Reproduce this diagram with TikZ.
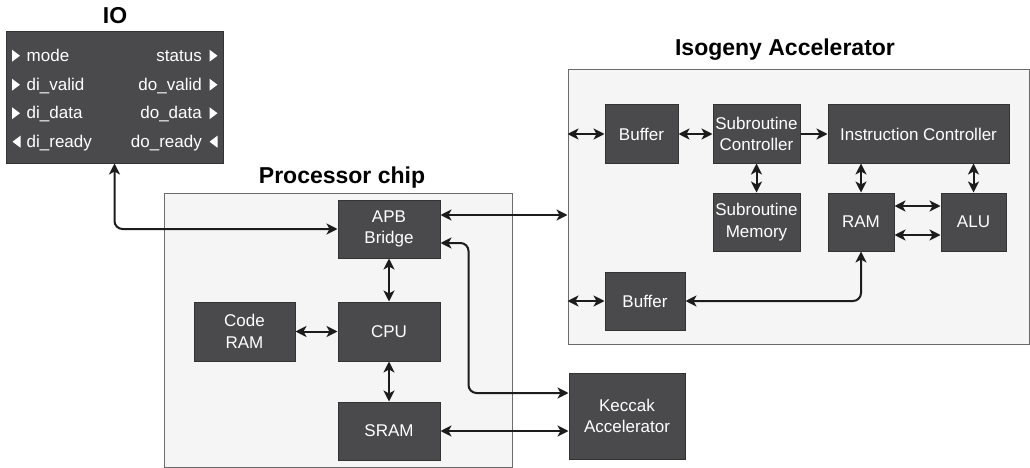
\documentclass[tikz,border=0pt]{standalone}
\usepackage{fontspec}
\setmainfont{Liberation Sans}
\usetikzlibrary{arrows.meta}
\definecolor{boxfill}{HTML}{4A4A4C}
\definecolor{boxline}{HTML}{333333}
\definecolor{contfill}{HTML}{F5F5F5}
\definecolor{contline}{HTML}{6B6B6B}
\definecolor{arrcol}{HTML}{1C1C1C}
\tikzset{
  cont/.style={draw=contline, fill=contfill, line width=1pt, inner sep=0pt},
  blk/.style={draw=boxline, fill=boxfill, line width=1pt, inner sep=0pt, text=white,
    align=center, font=\fontsize{17}{21.5}\selectfont},
  ttl/.style={font=\fontsize{23}{27}\selectfont\bfseries, text=black, inner sep=0pt, anchor=base},
  iotxt/.style={font=\fontsize{17}{21}\selectfont, text=white, inner sep=0pt},
  tip/.tip={Stealth[length=11pt,width=11pt,inset=3pt]},
  dbl/.style={draw=arrcol, line width=2pt, {tip}-{tip}},
  sgl/.style={draw=arrcol, line width=2pt, -{tip}},
}
\begin{document}
\begin{tikzpicture}[x=1pt,y=-1pt]
\useasboundingbox (0,0) rectangle (1030,468);
% containers
\node[blk, minimum width=217pt, minimum height=131pt] (io) at (114.5,97.5) {};
\node[cont, minimum width=348pt, minimum height=274pt] (proc) at (338,330) {};
\node[cont, minimum width=461pt, minimum height=274pt] (iso) at (798.5,207) {};
% titles
\node[ttl] (iot) at (115,24) {IO};
\node[ttl] (proct) at (342,183.5) {Processor chip};
\node[ttl] (isot) at (785,56) {Isogeny Accelerator};
% IO contents
\node[iotxt, anchor=base west] (l1) at (26.5,61.5) {mode};
\node[iotxt, anchor=base west] (l2) at (26.5,90.5) {di\_valid};
\node[iotxt, anchor=base west] (l3) at (26.5,119) {di\_data};
\node[iotxt, anchor=base west] (l4) at (26.5,147.5) {di\_ready};
\node[iotxt, anchor=base east] (r1) at (202,61.5) {status};
\node[iotxt, anchor=base east] (r2) at (202,90.5) {do\_valid};
\node[iotxt, anchor=base east] (r3) at (202,119) {do\_data};
\node[iotxt, anchor=base east] (r4) at (202,147.5) {do\_ready};
\foreach \b in {61.5,90.5,119}{
  \fill[white] (12,\b-11.8) -- (20,\b-5.8) -- (12,\b+0.2) -- cycle;
  \fill[white] (209.5,\b-11.8) -- (217.5,\b-5.8) -- (209.5,\b+0.2) -- cycle;
}
\fill[white] (20.5,135.7) -- (12.5,141.7) -- (20.5,147.7) -- cycle;
\fill[white] (217.5,135.7) -- (209.5,141.7) -- (217.5,147.7) -- cycle;
% processor blocks
\node[blk, minimum width=102pt, minimum height=58pt] (apb) at (389,229) {APB\\Bridge};
\node[blk, minimum width=102pt, minimum height=59pt] (cpu) at (389,331.5) {CPU};
\node[blk, minimum width=101pt, minimum height=59pt] (cram) at (244.5,331.5) {Code\\RAM};
\node[blk, minimum width=102pt, minimum height=58pt] (sram) at (389,431) {SRAM};
\node[blk, minimum width=116pt, minimum height=86pt] (kec) at (627,416) {Keccak\\Accelerator};
% isogeny blocks
\node[blk, minimum width=73pt, minimum height=58pt] (buf1) at (641.5,134) {Buffer};
\node[blk, minimum width=87pt, minimum height=58pt] (subc) at (756.5,134) {Subroutine\\Controller};
\node[blk, minimum width=181pt, minimum height=58pt] (ins) at (918.5,134) {Instruction Controller};
\node[blk, minimum width=87pt, minimum height=58pt] (subm) at (756.5,222) {Subroutine\\Memory};
\node[blk, minimum width=66pt, minimum height=58pt] (ram) at (861,222) {RAM};
\node[blk, minimum width=65pt, minimum height=58pt] (alu) at (973.5,222) {ALU};
\node[blk, minimum width=80pt, minimum height=58pt] (buf2) at (645,301) {Buffer};
% connectors
\draw[dbl, rounded corners=8pt] (io.south) |- (apb.west);
\draw[dbl] ([yshift=14pt]apb.east) -- ([yshift=14pt]apb.east -| iso.west);
\draw[dbl, rounded corners=8pt] ([yshift=-14pt]apb.east) -- ++(28,0) |- ([yshift=23pt]kec.west);
\draw[dbl] (apb.south) -- (cpu.north);
\draw[dbl] (cpu.south) -- (sram.north);
\draw[dbl] (cram.east) -- (cpu.west);
\draw[dbl] (sram.east) -- (sram.east -| kec.west);
\draw[dbl] (buf1.west -| iso.west) -- (buf1.west);
\draw[dbl] (buf1.east) -- (subc.west);
\draw[sgl] (subc.east) -- (ins.west);
\draw[dbl] (subc.south) -- (subm.north);
\draw[dbl] (ram.north |- ins.south) -- (ram.north);
\draw[dbl] (alu.north |- ins.south) -- (alu.north);
\draw[dbl] ([yshift=16pt]ram.east) -- ([yshift=16pt]ram.east -| alu.west);
\draw[dbl] ([yshift=-13pt]ram.east) -- ([yshift=-13pt]ram.east -| alu.west);
\draw[dbl] (buf2.west -| iso.west) -- (buf2.west);
\draw[dbl, rounded corners=8pt] (buf2.east) -| (ram.south);
\end{tikzpicture}
\end{document}
